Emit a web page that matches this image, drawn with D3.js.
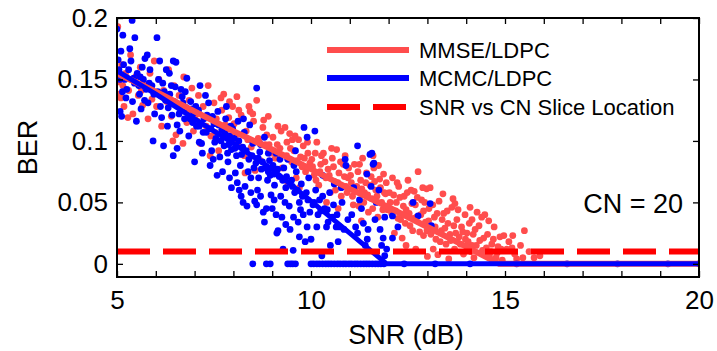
<!DOCTYPE html>
<html>
<head>
<meta charset="utf-8">
<script src="https://cdn.jsdelivr.net/npm/d3@7"></script>
<style>
  body { margin: 0; background: #fff; }
  text { font-family: "Liberation Sans", Arial, sans-serif; fill: #000; }
</style>
</head>
<body>
<svg id="chart" width="717" height="351"></svg>
<script>
// BER vs SNR at CN = 20

var xTicks = [5, 6, 7, 8, 9, 10, 11, 12, 13, 14, 15, 16, 17, 18, 19, 20];
var yTicks = [0, 0.05, 0.1, 0.15, 0.2];
var sliceBER = 0.0101;
var cnLabel = "CN = 20";
var legendNames = ["MMSE/LDPC", "MCMC/LDPC", "SNR vs CN Slice Location"];

// trend lines
var mmseLineSNR = [5, 6, 7, 8, 9, 10, 11, 12, 13, 14, 14.85, 20];
var mmseLineBER = [0.155, 0.140, 0.124, 0.108, 0.093, 0.077, 0.061, 0.046, 0.030, 0.014, 0, 0];
var mcmcLineSNR = [5, 6, 7, 8, 9, 10, 11, 11.95, 20];
var mcmcLineBER = [0.157, 0.138, 0.118, 0.098, 0.077, 0.051, 0.025, 0, 0];

// scatter, [SNR, BER]
var mmsePoints = [
  [5.02,0.193],[5.05,0.148],[5.1,0.135],[5.12,0.162],[5.18,0.128],[5.22,0.155],[5.3,0.141],[5.35,0.170],[5.41,0.122],[5.48,0.152],
  [5.55,0.137],[5.6,0.160],[5.66,0.129],[5.72,0.146],[5.8,0.118],[5.85,0.155],[5.9,0.134],[5.96,0.165],[5.03,0.138],[5.28,0.119],
  [6.02,0.128],[6.08,0.150],[6.15,0.112],[6.2,0.141],[6.28,0.132],[6.33,0.158],[6.4,0.120],[6.47,0.145],[6.52,0.105],[6.6,0.137],
  [6.65,0.126],[6.72,0.152],[6.8,0.115],[6.86,0.133],[6.93,0.143],[6.97,0.108],[6.44,0.100],[6.7,0.098],
  [7.03,0.121],[7.1,0.137],[7.15,0.098],[7.22,0.128],[7.3,0.112],[7.35,0.145],[7.42,0.104],[7.5,0.131],[7.56,0.118],[7.62,0.092],
  [7.7,0.125],[7.75,0.138],[7.82,0.109],[7.88,0.119],[7.95,0.101],[7.4,0.088],[7.68,0.135],[7.98,0.128],
  [8.02,0.114],[8.09,0.136],[8.12,0.099],[8.2,0.121],[8.28,0.088],[8.33,0.108],[8.4,0.128],[8.46,0.095],[8.52,0.116],[8.6,0.133],
  [8.64,0.102],[8.7,0.084],[8.76,0.111],[8.82,0.097],[8.9,0.120],[8.95,0.090],[8.56,0.076],[8.86,0.105],[8.3,0.074],[8.43,0.124],
  [9.02,0.103],[9.08,0.086],[9.15,0.112],[9.2,0.094],[9.26,0.078],[9.33,0.111],[9.38,0.099],[9.45,0.106],[9.5,0.083],[9.56,0.092],
  [9.62,0.070],[9.68,0.101],[9.73,0.087],[9.8,0.096],[9.86,0.075],[9.92,0.090],[9.97,0.082],[9.4,0.066],[9.7,0.062],
  [10.02,0.085],[10.08,0.072],[10.15,0.099],[10.2,0.064],[10.25,0.081],[10.32,0.090],[10.38,0.070],[10.44,0.077],[10.5,0.058],[10.55,0.086],
  [10.6,0.067],[10.66,0.093],[10.72,0.074],[10.78,0.055],[10.83,0.081],[10.9,0.063],[10.95,0.070],[10.4,0.050],[10.7,0.045],[10.88,0.088],
  [11.02,0.072],[11.07,0.055],[11.12,0.081],[11.18,0.063],[11.23,0.047],[11.28,0.068],[11.33,0.086],[11.38,0.058],[11.43,0.074],[11.48,0.042],
  [11.52,0.064],[11.57,0.053],[11.62,0.078],[11.67,0.060],[11.72,0.038],[11.77,0.069],[11.82,0.050],[11.87,0.073],[11.92,0.057],[11.97,0.044],
  [11.3,0.035],[11.6,0.088],
  [12.02,0.058],[12.08,0.041],[12.1,0.070],[12.15,0.025],[12.2,0.050],[12.26,0.063],[12.31,0.036],[12.35,0.021],[12.4,0.055],[12.45,0.044],
  [12.5,0.068],[12.55,0.031],[12.6,0.049],[12.66,0.059],[12.72,0.038],[12.76,0.075],[12.8,0.026],[12.85,0.052],[12.9,0.043],[12.95,0.034],
  [12.98,0.061],[12.45,0.015],[12.7,0.012],
  [13.0,0.006],[13.04,0.045],[13.07,0.062],[13.12,0.030],[13.18,0.038],[13.22,0.020],[13.27,0.0075],[13.3,0.051],[13.36,0.027],[13.42,0.041],
  [13.48,0.016],[13.53,0.033],[13.58,0.024],[13.63,0.046],[13.66,0.053],[13.7,0.012],[13.76,0.036],[13.82,0.022],[13.88,0.030],[13.93,0.008],
  [13.97,0.040],[13.15,0.012],[13.55,0.004],
  [14.02,0.025],[14.08,0.033],[14.1,0.046],[14.15,0.015],[14.2,0.005],[14.23,0.028],[14.28,0.042],[14.35,0.019],[14.42,0.011],[14.48,0.040],
  [14.55,0.024],[14.6,0.006],[14.66,0.016],[14.72,0.030],[14.8,0.009],[14.82,0.014],[14.87,0.022],[14.93,0.003],[14.97,0.023],
  [15.05,0.012],[15.18,0.013],[15.2,0.023],[15.3,0.004],[15.46,0.005],[15.5,0.027],[15.62,0.010],[15.75,0.005],[15.9,0.0066],
  [9.13,0.097],[9.37,0.088],[9.52,0.101],[9.64,0.084],[9.77,0.079],[9.91,0.099],[9.23,0.108],[9.47,0.094],[9.83,0.086],[9.59,0.104],
  [10.04,0.079],[10.13,0.068],[10.27,0.088],[10.36,0.083],[10.47,0.072],[10.58,0.079],[10.63,0.060],[10.76,0.083],[10.86,0.071],[10.97,0.078],
  [10.11,0.090],[10.53,0.094],[10.93,0.058],[10.23,0.075],[10.69,0.066],
  [11.04,0.066],[11.14,0.059],[11.21,0.075],[11.31,0.061],[11.41,0.066],[11.46,0.056],[11.55,0.071],[11.64,0.067],[11.7,0.055],[11.79,0.062],
  [11.85,0.044],[11.94,0.066],[11.09,0.048],[11.36,0.050],[11.59,0.045],[11.25,0.081],[11.74,0.080],[11.89,0.058],
  [12.04,0.050],[12.13,0.056],[12.18,0.043],[12.24,0.037],[12.29,0.054],[12.38,0.047],[12.43,0.033],[12.48,0.058],[12.53,0.041],[12.58,0.060],
  [12.64,0.037],[12.69,0.048],[12.74,0.054],[12.83,0.040],[12.88,0.062],[12.93,0.050],[12.99,0.027],[12.22,0.066],[12.62,0.027],[12.9,0.023],
  [13.03,0.035],[13.09,0.024],[13.14,0.048],[13.2,0.030],[13.25,0.041],[13.33,0.018],[13.38,0.036],[13.45,0.029],[13.51,0.043],[13.6,0.019],
  [13.68,0.031],[13.73,0.025],[13.79,0.044],[13.85,0.016],[13.91,0.026],[13.98,0.020],[13.4,0.057],[13.71,0.049],
  [14.05,0.018],[14.12,0.010],[14.18,0.024],[14.26,0.015],[14.33,0.031],[14.39,0.009],[14.45,0.021],[14.52,0.013],[14.58,0.035],[14.64,0.010],
  [14.7,0.020],[14.77,0.005],[14.9,0.012],[14.4,0.038],[14.15,0.036],[15.1,0.018],[15.25,0.008],[15.4,0.015],
  [5.15,0.145],[5.38,0.150],[5.63,0.141],[5.88,0.144],[6.12,0.137],[6.38,0.133],[6.57,0.130],[6.83,0.124],[7.07,0.116],[7.27,0.120],
  [7.53,0.107],[7.79,0.113],[8.05,0.104],[8.37,0.101],[8.67,0.099],[8.92,0.097],[8.14,0.125],[7.9,0.132],[8.5,0.122],[8.78,0.117]
];

var mcmcPoints = [
  [5.0,0.191],[5.39,0.198],[5.46,0.184],[5.15,0.186],[5.1,0.173],[5.33,0.175],[5.03,0.166],[5.72,0.167],[5.08,0.124],[5.12,0.120],
  [5.2,0.150],[5.25,0.142],[5.3,0.158],[5.4,0.132],[5.45,0.147],[5.52,0.155],[5.58,0.138],[5.62,0.126],[5.68,0.150],[5.75,0.142],
  [5.8,0.131],[5.85,0.158],[5.9,0.145],[5.93,0.100],[5.97,0.122],[5.05,0.158],[5.5,0.116],[5.78,0.170],
  [6.03,0.184],[6.1,0.165],[6.45,0.165],[6.52,0.164],[6.8,0.151],[6.2,0.096],[6.45,0.088],[6.55,0.094],[6.05,0.140],[6.12,0.128],
  [6.18,0.147],[6.25,0.133],[6.3,0.112],[6.36,0.138],[6.42,0.121],[6.5,0.144],[6.58,0.128],[6.62,0.108],[6.68,0.136],[6.74,0.118],
  [6.78,0.127],[6.85,0.104],[6.9,0.132],[6.95,0.115],[6.35,0.155],[6.65,0.142],[6.98,0.123],[6.15,0.119],
  [7.0,0.083],[7.4,0.080],[7.14,0.145],[7.05,0.112],[7.1,0.125],[7.18,0.098],[7.24,0.118],[7.3,0.107],[7.36,0.131],[7.44,0.092],
  [7.5,0.114],[7.55,0.102],[7.6,0.124],[7.65,0.087],[7.7,0.109],[7.76,0.096],[7.8,0.118],[7.86,0.083],[7.9,0.104],[7.95,0.093],
  [7.28,0.137],[7.58,0.072],[7.82,0.128],[7.2,0.090],[7.46,0.120],[7.72,0.075],[7.98,0.110],
  [8.6,0.143],[8.3,0.063],[8.55,0.051],[8.35,0.047],[8.77,0.042],[8.85,0.045],[8.02,0.102],[8.08,0.088],[8.12,0.116],[8.18,0.080],
  [8.24,0.095],[8.28,0.107],[8.4,0.085],[8.45,0.070],[8.5,0.098],[8.58,0.082],[8.62,0.060],[8.68,0.091],[8.72,0.077],[8.8,0.103],
  [8.88,0.068],[8.93,0.084],[8.97,0.056],[8.15,0.060],[8.42,0.113],[8.7,0.097],[8.9,0.075],[8.05,0.074],
  [9.82,0.111],[9.9,0.103],[9.12,0.025],[9.15,0.027],[9.46,0.028],[9.67,0.034],[9.97,0.042],[9.85,0.018],[9.28,0.012],[9.54,0.011],
  [9.02,0.080],[9.06,0.064],[9.1,0.090],[9.18,0.071],[9.22,0.055],[9.3,0.078],[9.35,0.062],[9.4,0.085],[9.44,0.047],[9.5,0.068],
  [9.58,0.058],[9.62,0.075],[9.7,0.050],[9.75,0.065],[9.8,0.040],[9.88,0.058],[9.94,0.070],[9.25,0.038],[9.6,0.092],
  [10.1,0.108],[10.88,0.085],[10.9,0.080],[10.0,0.020],[10.44,0.034],[10.67,0.040],[10.28,0.0066],[10.7,0.018],[10.05,0.048],[10.12,0.060],
  [10.18,0.040],[10.22,0.052],[10.3,0.072],[10.35,0.045],[10.4,0.030],[10.48,0.058],[10.55,0.038],[10.6,0.065],[10.74,0.030],[10.8,0.050],
  [10.95,0.036],[10.5,0.015],
  [11.2,0.096],[11.57,0.090],[11.62,0.082],[11.52,0.089],[11.6,0.081],[11.2,0.025],[11.47,0.028],[11.78,0.028],[11.86,0.021],[11.44,0.073],
  [11.9,0.0066],[11.05,0.040],[11.1,0.062],[11.3,0.045],[11.35,0.033],[11.68,0.050],[11.75,0.060],[11.95,0.012],[11.4,0.015],[11.55,0.063],
  [11.9,0.038],[12.1,0.039],[12.24,0.030],[12.1,0.021],[12.63,0.050],[13.07,0.049],[12.76,0.039],[13.1,0.031],
  [5.07,0.150],[5.17,0.162],[5.23,0.135],[5.36,0.165],[5.43,0.151],[5.56,0.145],[5.65,0.160],[5.71,0.133],[5.83,0.147],[5.95,0.138],
  [5.14,0.140],[5.6,0.152],
  [6.07,0.150],[6.22,0.140],[6.32,0.127],[6.4,0.145],[6.48,0.132],[6.6,0.122],[6.7,0.131],[6.76,0.140],[6.88,0.118],[6.93,0.126],
  [6.27,0.158],[6.55,0.113],
  [7.03,0.128],[7.12,0.112],[7.22,0.107],[7.32,0.121],[7.42,0.110],[7.52,0.099],[7.62,0.113],[7.68,0.100],[7.78,0.106],[7.88,0.097],
  [7.93,0.112],[7.48,0.085],[7.12,0.099],[7.85,0.090],
  [8.04,0.094],[8.14,0.100],[8.21,0.089],[8.33,0.092],[8.48,0.088],[8.53,0.078],[8.64,0.086],[8.75,0.083],[8.83,0.078],[8.95,0.072],
  [8.38,0.075],[8.65,0.070],[8.26,0.118],[8.9,0.090],
  [9.05,0.073],[9.14,0.077],[9.27,0.068],[9.37,0.071],[9.52,0.063],[9.65,0.060],[9.78,0.055],[9.92,0.052],[9.2,0.085],[9.56,0.080],
  [9.33,0.050],[9.73,0.044],
  [10.08,0.050],[10.25,0.043],[10.42,0.044],[10.58,0.048],[10.65,0.030],[10.85,0.028],[10.3,0.055],[10.15,0.030],[10.78,0.062],
  [11.15,0.030],[11.25,0.052],[11.45,0.020],[11.65,0.036],[11.82,0.015],
  [7.9,0.070],[8.1,0.066],[8.2,0.055],[8.45,0.058],[8.6,0.048],[8.25,0.050],[7.95,0.062],[8.7,0.055],[9.0,0.045],[9.1,0.040],
  [9.35,0.032],[9.55,0.038],[9.7,0.022],[9.9,0.030],[8.8,0.034],[9.05,0.052],
  // points sitting on BER = 0
  [8.5,0],[8.85,0],[8.95,0],[9.4,0],[9.47,0],[9.53,0],[9.6,0],[10.0,0],[10.07,0],[10.15,0],
  [10.22,0],[10.3,0],[10.38,0],[10.45,0],[10.52,0],[10.6,0],[10.68,0],[10.75,0],[10.83,0],[10.9,0],
  [10.98,0],[11.05,0],[11.13,0],[11.2,0],[11.28,0],[11.36,0],[11.43,0],[11.5,0],[11.58,0],[11.66,0],
  [11.73,0],[11.8,0],[11.88,0],[12.4,0],[13.2,0],[14.1,0],[15.3,0],[16.6,0],[17.9,0],[19.2,0],[20.0,0]
];

var margin = {top: 18, right: 18, bottom: 74, left: 117};
var width = 717, height = 351;
var red = "#ff4d4d", blue = "#0000ff", sliceRed = "#ff0000";

var svg = d3.select("#chart");

var x = d3.scaleLinear().domain([5, 20]).range([margin.left, width - margin.right]);
var y = d3.scaleLinear().domain([-0.0107, 0.2]).range([height - margin.bottom, margin.top]);

svg.append("defs").append("clipPath").attr("id", "plotClip")
  .append("rect")
  .attr("x", x(5)).attr("y", y(0.2))
  .attr("width", x(20) - x(5)).attr("height", y(-0.0107) - y(0.2));

var plot = svg.append("g").attr("clip-path", "url(#plotClip)");

var line = d3.line().x(d => x(d[0])).y(d => y(d[1]));
var zipLine = function(xs, ys) {
  return xs.map((v, i) => [v, ys[i]]);
};

var drawDots = function(points, color) {
  plot.append("g").selectAll("circle")
    .data(points)
    .enter().append("circle")
    .attr("cx", d => x(d[0]))
    .attr("cy", d => y(d[1]))
    .attr("r", 3.4)
    .attr("fill", color);
};

var drawTrend = function(xs, ys, color, w) {
  plot.append("path")
    .datum(zipLine(xs, ys))
    .attr("d", line)
    .attr("fill", "none")
    .attr("stroke", color)
    .attr("stroke-width", w);
};

// both scatters first, then the two trend lines on top
drawDots(mmsePoints, red);
drawDots(mcmcPoints, blue);
drawTrend(mmseLineSNR, mmseLineBER, red, 6);
drawTrend(mcmcLineSNR, mcmcLineBER, blue, 5);

// slice location
plot.append("line")
  .attr("x1", x(5)).attr("x2", x(20))
  .attr("y1", y(sliceBER)).attr("y2", y(sliceBER))
  .attr("stroke", sliceRed)
  .attr("stroke-width", 6)
  .attr("stroke-dasharray", "33,13");

// axes, ticks point inward on all four sides
var fmtX = d => (d % 5 === 0 ? d : "");
var fmtY = d => (d === 0 ? "0" : d3.format("~g")(d));

svg.append("g")
  .attr("transform", "translate(0," + y(-0.0107) + ")")
  .call(d3.axisBottom(x).tickValues(xTicks).tickFormat(fmtX).tickSizeInner(-6).tickSizeOuter(0).tickPadding(14));
svg.append("g")
  .attr("transform", "translate(0," + y(0.2) + ")")
  .call(d3.axisTop(x).tickValues(xTicks).tickFormat("").tickSizeInner(-6).tickSizeOuter(0));
svg.append("g")
  .attr("transform", "translate(" + x(5) + ",0)")
  .call(d3.axisLeft(y).tickValues(yTicks).tickFormat(fmtY).tickSizeInner(-6).tickSizeOuter(0).tickPadding(9));
svg.append("g")
  .attr("transform", "translate(" + x(20) + ",0)")
  .call(d3.axisRight(y).tickValues(yTicks).tickFormat("").tickSizeInner(-6).tickSizeOuter(0));

svg.selectAll(".domain").remove();
svg.selectAll(".tick line").attr("stroke", "#000").attr("stroke-width", 1.3);
svg.selectAll(".tick text").style("font-size", "26px").attr("fill", "#000");

svg.append("rect")
  .attr("x", x(5)).attr("y", y(0.2))
  .attr("width", x(20) - x(5)).attr("height", y(-0.0107) - y(0.2))
  .attr("fill", "none")
  .attr("stroke", "#000")
  .attr("stroke-width", 2);

// axis titles
svg.append("text")
  .attr("x", (x(5) + x(20)) / 2 - 2)
  .attr("y", 344)
  .attr("text-anchor", "middle")
  .style("font-size", "27px")
  .text("SNR (dB)");

svg.append("text")
  .attr("transform", "translate(37," + ((y(0.2) + y(-0.0107)) / 2) + ") rotate(-90)")
  .attr("text-anchor", "middle")
  .style("font-size", "27px")
  .text("BER");

svg.append("text")
  .attr("x", 683)
  .attr("y", 213)
  .attr("text-anchor", "end")
  .style("font-size", "27px")
  .text(cnLabel);

// legend
var legendStyles = [
  {color: red, dash: null, w: 6},
  {color: blue, dash: null, w: 6},
  {color: sliceRed, dash: "33,13", w: 6}
];
var legendRows = [50, 78, 107];
var legend = svg.append("g");
legendNames.forEach(function(name, i) {
  legend.append("line")
    .attr("x1", 327).attr("x2", 409)
    .attr("y1", legendRows[i]).attr("y2", legendRows[i])
    .attr("stroke", legendStyles[i].color)
    .attr("stroke-width", legendStyles[i].w)
    .attr("stroke-dasharray", legendStyles[i].dash);
  legend.append("text")
    .attr("x", 419)
    .attr("y", legendRows[i] + 8)
    .style("font-size", "22px")
    .text(name);
});
</script>
</body>
</html>
